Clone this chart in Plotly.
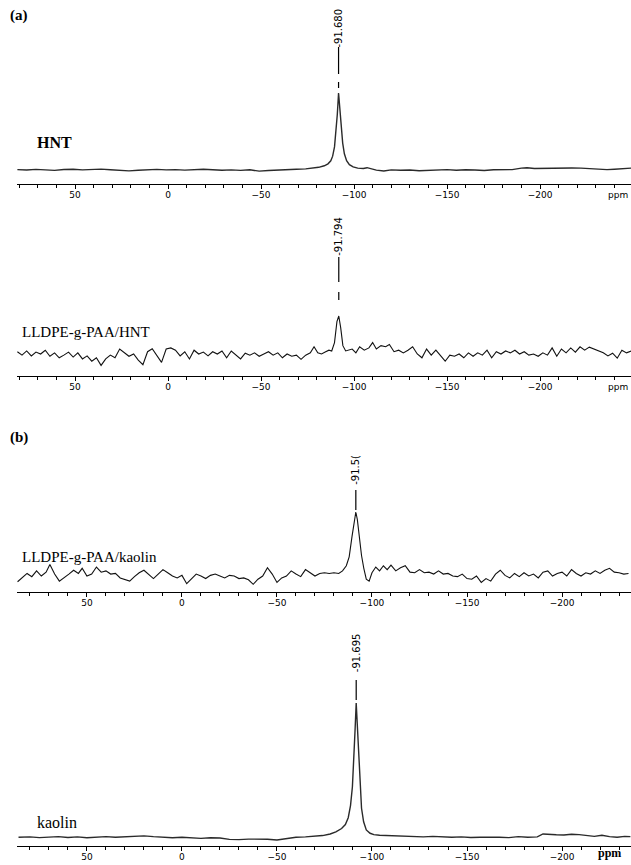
import plotly.graph_objects as go

W, H = 631, 865

# ---------------- data ----------------
# Panel (a) top: HNT
hnt_ppm = [81, 76, 71, 66, 61, 56, 51, 46, 41, 36, 31, 26, 21, 16, 11, 6, 1, -4, -9, -14,
           -19, -24, -29, -34, -39, -44, -49, -54, -59, -64, -69, -74, -78, -81, -84, -86,
           -87.5, -88.5, -89.5, -90.3, -91, -91.68, -92.4, -93.1, -93.9, -94.8, -96, -97.5,
           -99.5, -102, -105, -107, -109, -112, -116, -120, -125, -130, -135, -140, -145,
           -150, -155, -160, -165, -170, -175, -180, -185, -190, -193, -197, -202, -207,
           -212, -217, -222, -227, -232, -236, -240, -244, -249]
hnt_int = [0.5, 0, 0.8, 0.3, -0.5, 0.6, 1.0, 0.2, 0.8, 1.2, 0.3, -0.4, -1.2, -0.3, 0.4, 0.8,
           0.2, 0.5, -0.2, 0.6, 1.0, 0.4, -0.3, 0.2, -0.5, 0.3, -1.5, -0.6, 0.2, 0.5, 1.0, 1.5,
           2.5, 3.5, 5.5, 8, 12, 18, 30, 48, 72, 100, 80, 55, 35, 21, 12, 7, 4, 2.5, 2, 3,
           1.5, -0.2, -1.2, 0.2, -0.4, 0, -1, -0.5, 0, 0.5, -0.3, 0.4, 0, -0.6, 0.3, 0.2,
           0.5, 2.5, 3, 2, 2.2, 2.8, 3.2, 2.6, 2.4, 1.8, 1.5, 0.5, 1, 1.8, 2.5]

# Panel (a) bottom: LLDPE-g-PAA/HNT
lh_ppm = [81, 78.5, 76, 73.5, 71, 68.5, 66, 63.5, 61, 58.5, 56, 53.5, 51, 48.5, 46, 43.5, 41,
          38.5, 36, 33.5, 31, 28.5, 26, 23.5, 21, 18.5, 16, 13.5, 11, 8.5, 6, 3.5, 1, -1.5,
          -4, -6.5, -9, -11.5, -14, -16.5, -19, -21.5, -24, -26.5, -29, -31.5, -34, -36.5,
          -39, -41.5, -44, -46.5, -49, -51.5, -54, -56.5, -59, -61.5, -64, -66.5, -69,
          -71.5, -74, -76.5, -78.5, -80.5, -82.5, -84.5, -86.5, -88, -89.5, -90.8, -91.794,
          -92.8, -94, -95.5, -97, -99, -101, -103, -105.5, -108, -110, -112, -114.5, -117,
          -119, -121.5, -124, -126.5, -129, -131.5, -134, -136.5, -139, -141.5, -144,
          -146.5, -149, -151.5, -154, -156.5, -159, -161.5, -164, -166.5, -169, -171.5,
          -174, -176.5, -179, -181.5, -184, -186.5, -189, -191.5, -194, -196.5, -199,
          -201.5, -204, -206.5, -209, -211.5, -214, -216.5, -219, -221.5, -224, -226.5,
          -229, -231.5, -234, -236.5, -239, -241.5, -244, -246.5, -249]
lh_int = [6, -3, 8, -5, 5, 0, 10, -6, 3, -10,
          -3, 5, -8, 3, -13, -5, -19, -10, -30, -13,
          -3, -10, 13, 3, -6, 0, -16, -28, 6, 14,
          -5, -22, 13, 16, 10, -5, 6, -13, 10, 0,
          5, -5, 6, 0, 8, -10, 8, -3, -13, 2,
          -3, 3, -6, 0, 6, -3, 3, -10, 0, -6,
          -3, -14, -3, 3, 19, 3, 0, 5, 10, 8,
          30, 85, 100, 70, 22, 8, 10, 13, 3, 19,
          10, 16, 30, 13, 22, 19, 25, 6, 10, 3,
          10, 19, 0, -10, 13, -3, 10, -6, -19, -3,
          -6, 0, -10, 3, -6, 3, -3, 10, -10, 6,
          0, 8, 3, 10, 0, 6, -3, 0, -6, 3,
          -3, 16, -6, 13, 3, 16, 5, 19, 10, 18,
          13, 6, 3, -5, 2, -11, 10, 3, 8]

# Panel (b) top: LLDPE-g-PAA/kaolin
lk_ppm = [86.5, 84, 81.5, 79, 76.5, 74, 71.5, 69.5, 67, 64.5, 62, 59.5, 57, 54.5, 52.5, 50,
          47.5, 45, 42.5, 40, 37.5, 35, 32.5, 30, 27.5, 25, 22.5, 20, 17.5, 15, 12.5, 10,
          7.5, 5, 2.5, 0, -2.5, -5, -7.5, -10, -12.5, -15, -17.5, -20, -22.5, -25, -27.5,
          -30, -32.5, -35, -37.5, -40, -42.5, -45, -47.5, -50, -52.5, -55, -57.5, -60,
          -62.5, -65, -67.5, -70, -72.5, -75, -77.5, -80, -82.5, -84.5, -86.5, -88, -89.5,
          -90.7, -91.5, -92.3, -93.3, -94.5, -95.7, -97, -98.5, -100, -102, -104, -106,
          -108, -110, -112.5, -115, -117.5, -120, -122.5, -125, -127.5, -130, -132.5, -135,
          -137.5, -140, -142.5, -145, -147.5, -150, -152.5, -155, -157.5, -160, -162.5,
          -165, -167.5, -170, -172.5, -175, -177.5, -180, -182.5, -185, -187.5, -190,
          -192.5, -195, -197.5, -200, -202.5, -205, -207.5, -210, -212.5, -215, -217.5,
          -220, -222.5, -225, -227.5, -230, -232.5, -235]
lk_int = [-9, -3, 4, -1, 8, 0, 6, 18, 3, -8,
          -3, 3, 9, 4, 12, 0, 3, 14, 6, 8,
          3, 4, -3, -5, -8, -1, 5, 9, 3, -4,
          3, 10, 5, 0, -3, 1, -12, -5, 3, 0,
          -4, 1, 3, 0, -3, 1, 0, -4, -3, -6,
          -13, -5, 0, 13, 3, -10, -3, 0, 8, 3,
          -1, 10, 5, 0, 4, 5, 4, 5, 4, 8,
          16, 30, 62, 90, 100, 88, 60, 32, 12, -5,
          -8, 5, 14, 8, 16, 10, 17, 8, 13, 16,
          6, 5, 10, 5, 6, 3, 8, 3, 4, 0,
          -1, 3, -4, -5, 0, -10, -4, -8, 3, 9,
          1, -3, 4, -1, 5, 0, 3, -3, 6, 8,
          0, 4, 6, 0, 10, 4, 0, 5, 3, 8,
          4, 9, 12, 6, 5, 3, 4]

# Panel (b) bottom: kaolin
kao_ppm = [86, 80, 75, 70, 65, 60, 55, 50, 45, 40, 35, 30, 25, 20, 15, 10, 5, 0, -5, -10,
           -15, -20, -25, -30, -35, -40, -45, -50, -55, -60, -65, -70, -74, -78, -81, -84,
           -86, -87.5, -88.7, -89.7, -90.5, -91.1, -91.695, -92.3, -92.9, -93.6, -94.5,
           -95.6, -97, -99, -101, -104, -108, -112, -117, -122, -127, -132, -137, -142,
           -147, -152, -157, -162, -167, -172, -177, -182, -187, -190, -193, -197, -201,
           -205, -209, -213, -217, -221, -225, -229, -233, -236]
kao_int = [0.5, 0.8, 0.3, 0.6, 1.0, 0.4, 0.8, 0.2, 0.6, 1.0, 0.5, 0.8, 1.2, 1.6, 1.0, 0.4,
           0.2, 0.5, 0.0, -0.3, 0.2, 0.0, -1.0, -1.2, -0.8, -0.6, -0.9, -1.5, -0.5, 0.5, 0.8,
           1.2, 1.8, 3, 4.5, 7, 10, 15, 24, 38, 58, 80, 100, 82, 58, 38, 22, 12, 6, 3.5,
           2.5, 2.0, 1.8, 1.2, 1.5, 1.2, 0.8, 1.2, 0.8, 0.5, 0.8, 0.4, 0.6, 0.8, 0.5, 0.3,
           1.0, 0.6, 0.8, 3.0, 2.6, 2.4, 2.2, 2.8, 2.5, 1.6, 1.2, 2.0, 1.0, 0.6, 1.2, 1.0]

sample_names = ["HNT", "LLDPE-g-PAA/HNT", "LLDPE-g-PAA/kaolin", "kaolin"]
peak_labels = ["-91.680", "-91.794", "-91.5(", "-91.695"]
peak_ppm = [-91.680, -91.794, -91.5, -91.695]
tick_vals = [50, 0, -50, -100, -150, -200]

for a, b in [(hnt_ppm, hnt_int), (lh_ppm, lh_int), (lk_ppm, lk_int), (kao_ppm, kao_int)]:
    assert len(a) == len(b), (len(a), len(b))

# ---------------- layout (pixel geometry) ----------------
panels = [
    dict(x=hnt_ppm, y=hnt_int, top=0, axis=184, base=170, peak=93, xr=(81.2, -248.9),
         color="#2a2a2a", width=1.4, lab=(35, 143, True, 16), lab_text=(28, 47, 74, (82, 88))),
    dict(x=lh_ppm, y=lh_int, top=200, axis=376, base=354, peak=316, xr=(81.2, -248.9),
         color="#111111", width=1.1, lab=(20, 332, False, 15), lab_text=(236, 257, 282, (292, 300))),
    dict(x=lk_ppm, y=lk_int, top=430, axis=592, base=576, peak=512, xr=(86.8, -236.3),
         color="#111111", width=1.1, lab=(20, 557, False, 15), lab_text=(470, 490, 510, None)),
    dict(x=kao_ppm, y=kao_int, top=615, axis=846, base=838, peak=703, xr=(86.8, -236.3),
         color="#2a2a2a", width=1.4, lab=(35, 822, False, 16), lab_text=(653, 680, 700, None)),
]

fig = go.Figure()
layout = dict(width=W, height=H, margin=dict(l=0, r=0, t=0, b=0),
              paper_bgcolor="white", plot_bgcolor="white", showlegend=False)
annotations = []
shapes = []

def py(px):
    return 1 - px / H

for i, p in enumerate(panels):
    n = "" if i == 0 else str(i + 1)
    fig.add_trace(go.Scatter(x=p["x"], y=p["y"], mode="lines",
                             line=dict(color=p["color"], width=p["width"]),
                             xaxis="x" + n, yaxis="y" + n, hoverinfo="skip"))
    scale = (p["base"] - p["peak"]) / 100.0
    lo = -(p["axis"] - p["base"]) / scale
    hi = lo + (p["axis"] - p["top"]) / scale
    layout["xaxis" + n] = dict(
        domain=[17 / W, 1], anchor="y" + n, range=list(p["xr"]),
        showline=True, linecolor="black", linewidth=1.3,
        ticks="outside", ticklen=4, tickwidth=1.2, tickcolor="black",
        tickvals=tick_vals, ticktext=[str(v).replace("-", "\u2212") for v in tick_vals],
        tickfont=dict(family="DejaVu Sans", size=9, color="black"),
        ticklabelstandoff=-2,
        minor=dict(dtick=10, tick0=0, ticks="outside", ticklen=3, tickcolor="black", tickwidth=1),
        showgrid=False, zeroline=False, fixedrange=True)
    layout["yaxis" + n] = dict(domain=[py(p["axis"]), py(p["top"])], anchor="x" + n,
                               range=[lo, hi], visible=False, fixedrange=True)
    lx, ly, bold, fs = p["lab"]
    annotations.append(dict(text=("<b>%s</b>" % sample_names[i]) if bold else sample_names[i],
                            xref="paper", yref="paper", x=lx / W, y=py(ly),
                            xanchor="left", yanchor="middle", showarrow=False,
                            font=dict(family="Liberation Serif", size=fs, color="black")))
    tc, l0, l1, dash = p["lab_text"]
    annotations.append(dict(text=peak_labels[i], textangle=-90,
                            xref="x" + n, yref="paper", x=peak_ppm[i], y=py(tc),
                            xanchor="center", yanchor="middle", showarrow=False,
                            font=dict(family="DejaVu Sans", size=10, color="black")))
    shapes.append(dict(type="line", xref="x" + n, yref="paper", x0=peak_ppm[i], x1=peak_ppm[i],
                       y0=py(l0), y1=py(l1), line=dict(color="black", width=1.2)))
    if dash:
        shapes.append(dict(type="line", xref="x" + n, yref="paper", x0=peak_ppm[i],
                           x1=peak_ppm[i], y0=py(dash[0]), y1=py(dash[1]),
                           line=dict(color="black", width=1.2)))

# panel letters
for txt, y in [("(a)", 15), ("(b)", 437)]:
    annotations.append(dict(text="<b>%s</b>" % txt, xref="paper", yref="paper",
                            x=8 / W, y=py(y), xanchor="left", yanchor="middle",
                            showarrow=False,
                            font=dict(family="Liberation Serif", size=15, color="black")))
# ppm unit labels
for y in [195, 387]:
    annotations.append(dict(text="ppm", xref="paper", yref="paper", x=630 / W, y=py(y),
                            xanchor="right", yanchor="middle", showarrow=False,
                            font=dict(family="DejaVu Sans", size=9, color="black")))
annotations.append(dict(text="<b>ppm</b>", xref="paper", yref="paper", x=609 / W, y=py(853),
                        xanchor="center", yanchor="middle", showarrow=False,
                        font=dict(family="Liberation Serif", size=12, color="black")))

layout["annotations"] = annotations
layout["shapes"] = shapes
fig.update_layout(**layout)
fig.write_html("out.html", config={"displayModeBar": False},
               post_script="document.body.style.margin='0';document.body.style.padding='0';")
